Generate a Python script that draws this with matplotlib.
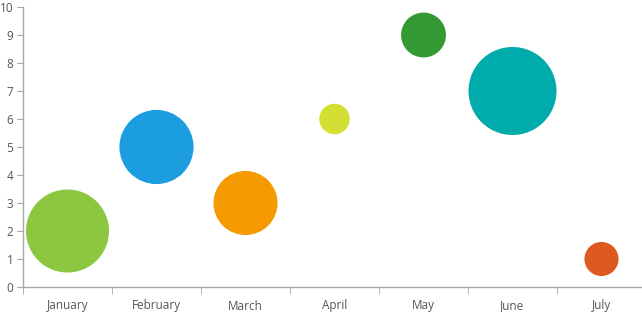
import matplotlib

matplotlib.use("Agg")
import matplotlib.pyplot as plt
import numpy as np

months = ["January", "February", "March", "April", "May", "June", "July"]
values = [2, 5, 3, 6, 9, 7, 1]
bubble_sizes = [8.9, 7.1, 5.3, 1.2, 2.6, 10.0, 1.5]
colors = ["#8dc63f", "#1b9ddf", "#f59a00", "#d4df33", "#339933", "#00abab", "#dc5920"]

plt.rcParams["font.family"] = ["Open Sans", "DejaVu Sans"]

fig = plt.figure(figsize=(6.42, 3.12), dpi=100)
# plot area runs slightly past the right edge, like the original
ax = fig.add_axes([23 / 642, 25 / 312, 623 / 642, 280 / 312])

xs = np.arange(len(months))
# biggest bubble is ~88 px across; marker size is in points^2
max_d_pt = 88 * 72 / fig.dpi
s = np.array(bubble_sizes) / max(bubble_sizes) * max_d_pt ** 2
ax.scatter(xs, values, s=s, c=colors, edgecolors="none", zorder=3, clip_on=False)

ax.set_xlim(-0.5, len(months) - 0.5)
ax.set_ylim(0, 10)
ax.set_yticks(range(0, 11))
ax.set_xticks(xs)
ax.set_xticklabels(months)
ax.set_xticks(np.arange(-0.5, len(months) - 0.5, 1.0), minor=True)

axis_col = "#a6a6a6"
text_col = "#555555"
for side in ("top", "right"):
    ax.spines[side].set_visible(False)
for side in ("left", "bottom"):
    ax.spines[side].set_color(axis_col)
    ax.spines[side].set_linewidth(1.0)

ax.tick_params(axis="y", length=4, color=axis_col, labelcolor=text_col,
               labelsize=8.5, pad=3)
ax.tick_params(axis="x", which="major", length=0, labelcolor=text_col,
               labelsize=8.5, pad=9)
ax.tick_params(axis="x", which="minor", length=5, color=axis_col)

fig.savefig("out.png", dpi=100)
